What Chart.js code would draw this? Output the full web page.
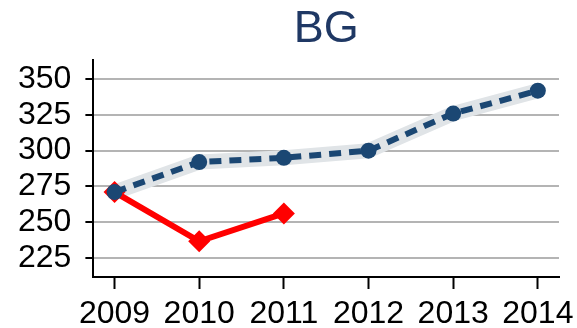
<!DOCTYPE html>
<html>
<head>
<meta charset="utf-8">
<script src="https://cdn.jsdelivr.net/npm/chart.js@4/dist/chart.umd.min.js"></script>
<style>
  html, body { margin: 0; padding: 0; background: #ffffff; }
  #wrap { width: 577px; height: 328px; }
</style>
</head>
<body>
<div id="wrap"><canvas id="bgChart"></canvas></div>
<script>
// --- data ---
const years = [2009, 2010, 2011, 2012, 2013, 2014];
const blueValues = [271, 292, 295, 300, 326, 342];
const redYears = [2009, 2010, 2011];
const redValues = [271, 236.5, 256];
const yTicks = [225, 250, 275, 300, 325, 350];

const FONT = "'Liberation Sans', Arial, sans-serif";

function pairs(xs, ys) {
    return xs.map((x, i) => ({ x: x, y: ys[i] }));
}

const ctx = document.getElementById('bgChart');

new Chart(ctx, {
    type: 'line',
    data: {
        datasets: [
            {
                // light band behind the blue series
                data: pairs(years, blueValues),
                borderColor: '#e0e4e7',
                borderWidth: 15,
                pointRadius: 0,
                borderJoinStyle: 'round',
                borderCapStyle: 'round',
                order: 3
            },
            {
                data: pairs(years, blueValues),
                borderColor: '#1b4773',
                backgroundColor: '#1b4773',
                borderWidth: 6,
                borderDash: [12, 8],
                pointStyle: 'circle',
                pointRadius: 8,
                pointBorderWidth: 0,
                order: 1
            },
            {
                data: pairs(redYears, redValues),
                borderColor: '#ff0000',
                backgroundColor: '#ff0000',
                borderWidth: 6,
                pointStyle: 'rectRot',
                pointRadius: 11,
                pointBorderWidth: 0,
                order: 2
            }
        ]
    },
    options: {
        responsive: true,
        maintainAspectRatio: false,
        animation: false,
        layout: { padding: { left: 4, right: 18, top: 0, bottom: -11 } },
        plugins: {
            legend: { display: false },
            tooltip: { enabled: false },
            title: {
                display: true,
                text: 'BG',
                fullSize: false,
                color: '#1f3864',
                font: { family: FONT, size: 45, weight: 'normal', lineHeight: 1.2 },
                padding: { top: 3, bottom: 3 }
            }
        },
        scales: {
            x: {
                type: 'linear',
                min: 2008.75,
                max: 2014.25,
                afterBuildTicks: axis => { axis.ticks = years.map(v => ({ value: v })); },
                // year labels may hang past the plot edges, as in the original
                afterFit: axis => { axis.paddingLeft = 0; axis.paddingRight = 0; },
                ticks: {
                    color: '#000000',
                    font: { family: FONT, size: 32, lineHeight: 1 },
                    padding: 9,
                    maxRotation: 0,
                    callback: v => String(v)
                },
                grid: { drawOnChartArea: false, drawTicks: true, tickLength: 12, tickWidth: 2, tickColor: '#000000' },
                border: { display: true, color: '#000000', width: 2 }
            },
            y: {
                min: 211.5,
                max: 363.5,
                afterBuildTicks: axis => { axis.ticks = yTicks.map(v => ({ value: v })); },
                ticks: {
                    color: '#000000',
                    font: { family: FONT, size: 32, lineHeight: 1 },
                    padding: 14
                },
                grid: { color: '#b4b4b4', lineWidth: 2, drawTicks: true, tickLength: 8, tickColor: '#000000', tickWidth: 2 },
                border: { display: true, color: '#000000', width: 2 }
            }
        }
    }
});
</script>
</body>
</html>
